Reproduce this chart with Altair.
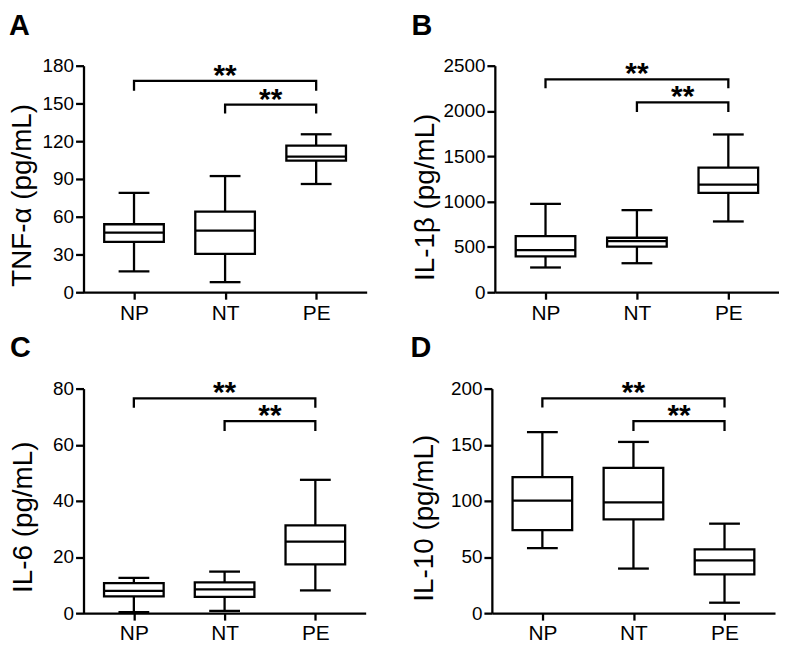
import json
import altair as alt
import pandas as pd

categories = ["NP", "NT", "PE"]

panel_letters = ["A", "B", "C", "D"]
y_titles = ["TNF-α (pg/mL)", "IL-1β (pg/mL)", "IL-6 (pg/mL)", "IL-10 (pg/mL)"]
y_max = [180, 2500, 80, 200]
y_step = [30, 500, 20, 50]

# five-number summaries, one value per category (NP, NT, PE)
tnf_min = [16.5, 8.0, 86.0]
tnf_q1 = [40.0, 30.5, 104.5]
tnf_med = [47.3, 49.0, 107.8]
tnf_q3 = [54.0, 64.0, 116.5]
tnf_max = [79.0, 92.3, 125.5]

il1b_min = [273, 320, 781]
il1b_q1 = [396, 504, 1097]
il1b_med = [464, 565, 1187]
il1b_q3 = [619, 601, 1374]
il1b_max = [975, 906, 1741]

il6_min = [0.4, 0.8, 8.1]
il6_q1 = [6.0, 5.8, 17.4]
il6_med = [7.9, 8.5, 25.5]
il6_q3 = [10.7, 11.0, 31.3]
il6_max = [12.6, 14.8, 47.5]

il10_min = [58.0, 39.7, 9.3]
il10_q1 = [74.0, 83.5, 34.5]
il10_med = [100.3, 98.6, 47.0]
il10_q3 = [121.2, 129.3, 56.8]
il10_max = [161.2, 152.5, 79.7]

# significance brackets (same pairs in every panel)
bracket_from = ["NP", "NT"]
bracket_to = ["PE", "PE"]
bracket_label = ["**", "**"]
tnf_br_top = [168, 149]
tnf_br_drop = [160, 142]
il1b_br_top = [2350, 2095]
il1b_br_drop = [2250, 1990]
il6_br_top = [76.5, 68.4]
il6_br_drop = [73.2, 64.9]
il10_br_top = [191.3, 171.0]
il10_br_drop = [183.2, 162.3]

FONT = "Liberation Sans"
SW = 2.3


def panel(i, mins, q1s, meds, q3s, maxs, br_top, br_drop, width, height, title_x, title_y):
    pos = list(range(len(categories)))
    box = pd.DataFrame({"pos": pos, "cat": categories, "lo": mins, "q1": q1s,
                        "med": meds, "q3": q3s, "hi": maxs})
    rows = []
    stars = []
    for b in range(len(bracket_from)):
        p0 = categories.index(bracket_from[b])
        p1 = categories.index(bracket_to[b])
        pts = [(p0, br_drop[b]), (p0, br_top[b]), (p1, br_top[b]), (p1, br_drop[b])]
        for k, (px, py) in enumerate(pts):
            rows.append({"bid": b, "k": k, "bx": px, "by": py})
        stars.append({"sx": (p0 + p1) / 2, "sy": br_top[b], "lab": bracket_label[b]})
    br = pd.DataFrame(rows)
    st = pd.DataFrame(stars)

    xscale = alt.Scale(domain=[-0.5, len(categories) - 0.5], nice=False, zero=False)
    yscale = alt.Scale(domain=[0, y_max[i]], nice=False, zero=True)
    xaxis = alt.Axis(values=pos, labelExpr=f"{json.dumps(categories)}[datum.value]",
                     title=None, labelFontSize=21, tickSize=7, labelPadding=3,
                     labelFlush=False, labelOverlap=False, grid=False)
    yaxis = alt.Axis(values=list(range(0, y_max[i] + 1, y_step[i])), title=y_titles[i],
                     format="d", labelFontSize=19, tickSize=8, labelPadding=2,
                     labelFlush=False, labelOverlap=False,
                     titleFontSize=28, titleFontWeight="normal", titleX=title_x,
                     titleY=title_y, grid=False)

    def X(field):
        return alt.X(field, type="quantitative", scale=xscale, axis=xaxis)

    def Y(field):
        return alt.Y(field, type="quantitative", scale=yscale, axis=yaxis)

    base = alt.Chart(box)
    whisk = base.mark_rule(color="black", strokeWidth=SW).encode(
        x=X("pos"), y=Y("lo"), y2="hi:Q")
    bx = base.mark_bar(size=60, fill="white", stroke="black", strokeWidth=SW,
                       opacity=1).encode(x=X("pos"), y=Y("q1"), y2="q3:Q")
    med = base.mark_tick(orient="horizontal", size=60, thickness=SW, color="black",
                         opacity=1).encode(x=X("pos"), y=Y("med"))
    cap_lo = base.mark_tick(orient="horizontal", size=31, thickness=SW, color="black",
                            opacity=1).encode(x=X("pos"), y=Y("lo"))
    cap_hi = base.mark_tick(orient="horizontal", size=31, thickness=SW, color="black",
                            opacity=1).encode(x=X("pos"), y=Y("hi"))
    brackets = alt.Chart(br).mark_line(color="black", strokeWidth=SW, strokeJoin="miter",
                                       strokeCap="butt").encode(
        x=X("bx"), y=Y("by"), detail="bid:N", order="k:Q")
    star_text = alt.Chart(st).mark_text(font=FONT, fontSize=30, fontWeight="bold",
                                        color="black", baseline="middle", dy=-5).encode(
        x=X("sx"), y=Y("sy"), text="lab:N")

    return alt.layer(whisk, bx, med, cap_lo, cap_hi, brackets, star_text).properties(
        width=width, height=height,
        title=alt.TitleParams(panel_letters[i], anchor="start", frame="bounds",
                              fontSize=29, fontWeight="bold", font=FONT, color="black",
                              offset=16),
    )


pA = panel(0, tnf_min, tnf_q1, tnf_med, tnf_q3, tnf_max, tnf_br_top, tnf_br_drop, 285, 228, -47, 130)
pB = panel(1, il1b_min, il1b_q1, il1b_med, il1b_q3, il1b_max, il1b_br_top, il1b_br_drop, 286, 228, -56, 132)
pC = panel(2, il6_min, il6_q1, il6_med, il6_q3, il6_max, il6_br_top, il6_br_drop, 284, 226, -46, 129)
pD = panel(3, il10_min, il10_q1, il10_med, il10_q3, il10_max, il10_br_top, il10_br_drop, 285, 226, -54, 130)

chart = alt.vconcat(
    alt.hconcat(pA, pB, spacing=44),
    alt.hconcat(pC, pD, spacing=44),
    spacing=10,
).properties(
    padding={"left": 0, "top": 2, "right": 0, "bottom": 0}
).configure_view(stroke=None).configure_axis(
    domainColor="black", domainWidth=SW, tickColor="black", tickWidth=SW,
    labelColor="black", titleColor="black", labelFont=FONT, titleFont=FONT,
)

chart.save("out.html", embed_options={"renderer": "svg", "actions": False})
